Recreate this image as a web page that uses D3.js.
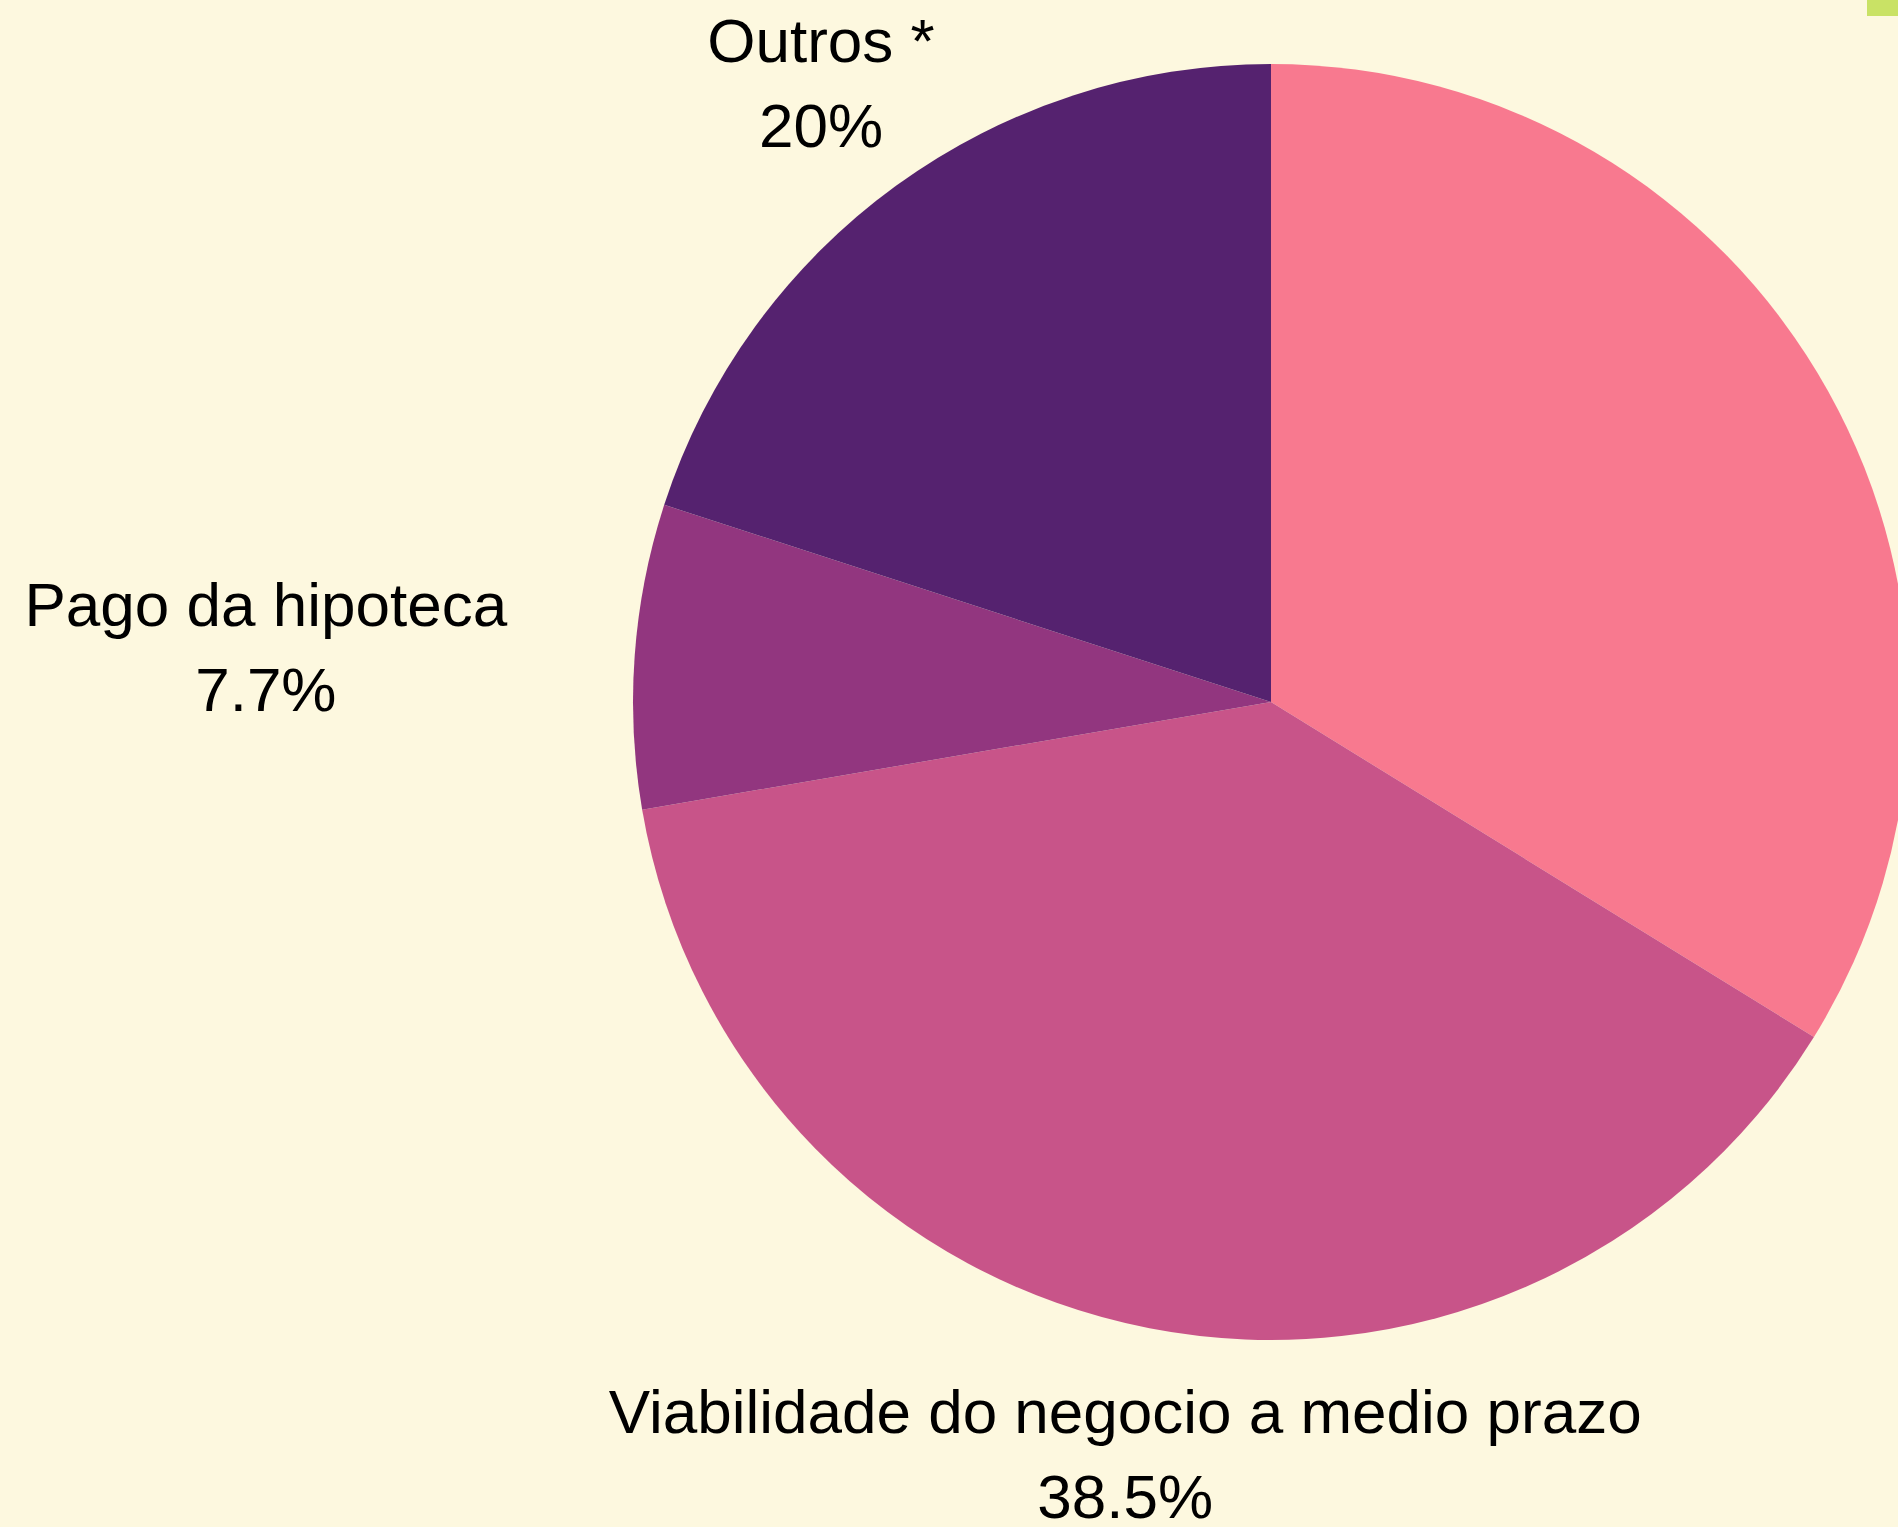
<!DOCTYPE html>
<html>
<head>
<meta charset="utf-8">
<script src="https://cdn.jsdelivr.net/npm/d3@7"></script>
<style>
  body { margin: 0; background: #fdf8df; }
  svg { display: block; }
</style>
</head>
<body>
<div id="chart"></div>
<script>
// Data
var categories = ["", "Viabilidade do negocio a medio prazo", "Pago da hipoteca", "Outros *"];
var values = [33.8, 38.5, 7.7, 20];
var labels = ["33.8%", "38.5%", "7.7%", "20%"];
var colors = ["#f8798f", "#c85489", "#92367f", "#55226f"];

var width = 1898;
var height = 1527;
var cx = 1271, cy = 702;
var radius = 638;
var labelRadius = radius * 1.2;
var fontSize = 62;
var lineHeight = 85;

var svg = d3.select("#chart").append("svg")
    .attr("width", width)
    .attr("height", height);

svg.append("rect")
    .attr("width", width)
    .attr("height", height)
    .attr("fill", "#fdf8df");

var pie = d3.pie().sort(null).value(function(d) { return d; });
var arc = d3.arc().innerRadius(0).outerRadius(radius);

var arcs = pie(values);

var g = svg.append("g")
    .attr("transform", "translate(" + cx + "," + cy + ")");

g.selectAll(".slice")
    .data(arcs)
    .enter().append("path")
    .attr("class", "slice")
    .attr("d", arc)
    .attr("fill", function(d, i) { return colors[i]; });

// labels outside along the mid angle; lines centred within the block
var labelG = g.selectAll(".label")
    .data(arcs.filter(function(d, i) { return categories[i] !== ""; }))
    .enter().append("text")
    .attr("class", "label")
    .style("font-family", "'Liberation Sans', Arial, sans-serif")
    .style("font-size", fontSize + "px")
    .attr("fill", "#000")
    .attr("text-anchor", "middle");

labelG.append("tspan")
    .attr("x", 0)
    .attr("y", -20.5)
    .text(function(d) { return categories[d.index]; });

labelG.append("tspan")
    .attr("x", 0)
    .attr("y", -20.5 + lineHeight)
    .text(function(d) { return labels[d.index]; });

labelG.attr("transform", function(d) {
  var a = (d.startAngle + d.endAngle) / 2;
  var x = labelRadius * Math.sin(a);
  var y = -labelRadius * Math.cos(a);
  var w = this.getBBox().width;
  if (Math.abs(Math.sin(a)) > 0.9) x += (Math.sin(a) < 0 ? -w / 2 : w / 2);
  return "translate(" + x + "," + y + ")";
});

// legend swatch peeking in at the top right
svg.append("rect")
    .attr("x", 1867)
    .attr("y", 0)
    .attr("width", 40)
    .attr("height", 16)
    .attr("fill", "#c9e265");
</script>
</body>
</html>
